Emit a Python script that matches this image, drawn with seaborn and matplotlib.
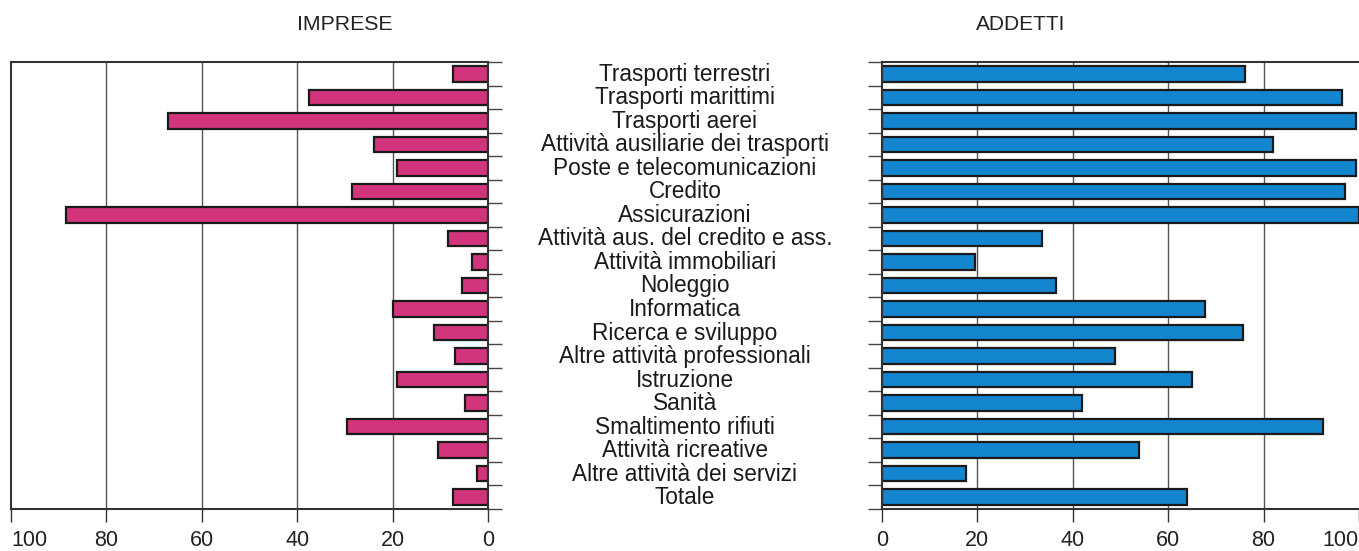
import numpy as np
import pandas as pd
import matplotlib.pyplot as plt
import matplotlib.transforms as mtransforms
import seaborn as sns

# Categories (top to bottom)
settori = [
    "Trasporti terrestri", "Trasporti marittimi", "Trasporti aerei",
    "Attività ausiliarie dei trasporti", "Poste e telecomunicazioni",
    "Credito", "Assicurazioni", "Attività aus. del credito e ass.",
    "Attività immobiliari", "Noleggio", "Informatica", "Ricerca e sviluppo",
    "Altre attività professionali", "Istruzione", "Sanità",
    "Smaltimento rifiuti", "Attività ricreative",
    "Altre attività dei servizi", "Totale",
]
imprese = [7.3, 37.5, 67, 24, 19, 28.5, 88.5, 8.4, 3.4, 5.4, 20, 11.3,
           6.9, 19, 4.8, 29.5, 10.5, 2.4, 7.3]
addetti = [76, 96.4, 99.4, 82, 99.4, 97, 100, 33.5, 19.5, 36.4, 67.8, 75.7,
           48.8, 65, 41.9, 92.5, 53.8, 17.6, 64]
xticks = [0, 20, 40, 60, 80, 100]

df = pd.DataFrame({"settore": settori, "imprese": imprese, "addetti": addetti})

sns.set_style("ticks")
plt.rcParams['font.family'] = ['Liberation Sans', 'DejaVu Sans']

fig = plt.figure(figsize=(13.59, 5.51), dpi=100)
ax1 = fig.add_axes([11 / 1359, 42 / 551, 477 / 1359, 447 / 551])
ax2 = fig.add_axes([882 / 1359, 42 / 551, 477 / 1359, 447 / 551])

n = len(settori)
edge = "#1a1a1a"

# IMPRESE, reversed axis
sns.barplot(data=df, y="settore", x="imprese", orient="h", color="#d3357c",
            saturation=1, width=0.66, edgecolor=edge, linewidth=1.6, ax=ax1)
ax1.set_xlim(100, 0)

# ADDETTI
sns.barplot(data=df, y="settore", x="addetti", orient="h", color="#1486cf",
            saturation=1, width=0.66, edgecolor=edge, linewidth=1.6, ax=ax2)
ax2.set_xlim(0, 100)

for ax in (ax1, ax2):
    ax.set_ylim(n - 0.5, -0.5)
    ax.set_yticks(np.arange(-0.5, n, 1))
    ax.set_yticklabels([])
    ax.set_xticks(xticks)
    ax.set_xticklabels([str(t) for t in xticks])
    ax.set_xlabel("")
    ax.set_ylabel("")
    ax.set_axisbelow(True)
    for v in [20, 40, 60, 80]:
        ax.axvline(v, color="#555555", lw=1.0, zorder=0)
    for s in ax.spines.values():
        s.set_color("#333333")
        s.set_linewidth(1.5)
    ax.tick_params(axis="x", direction="out", length=9, width=1,
                   labelsize=15.5, pad=6, colors="#333333", labelcolor="#222222")
    ax.tick_params(axis="y", direction="out", length=10, width=1, colors="#444444")

ax1.yaxis.tick_right()
ax2.spines["right"].set_visible(False)

# edge labels kept inside the picture
ax1.get_xticklabels()[-1].set_ha("left")
ax2.get_xticklabels()[-1].set_ha("right")

# centre labels
trans = mtransforms.blended_transform_factory(fig.transFigure, ax1.transData)
for i, s in enumerate(settori):
    ax1.text(685 / 1359, i + 0.02, s, transform=trans, ha="center", va="center",
             fontsize=16.3, color="#1a1a1a", clip_on=False)

fig.text(345 / 1359, 1 - 25 / 551, "IMPRESE", ha="center", va="center",
         fontsize=15.3, color="#222222")
fig.text(1021 / 1359, 1 - 25 / 551, "ADDETTI", ha="center", va="center",
         fontsize=15, color="#222222")

fig.savefig("out.png", dpi=100)
